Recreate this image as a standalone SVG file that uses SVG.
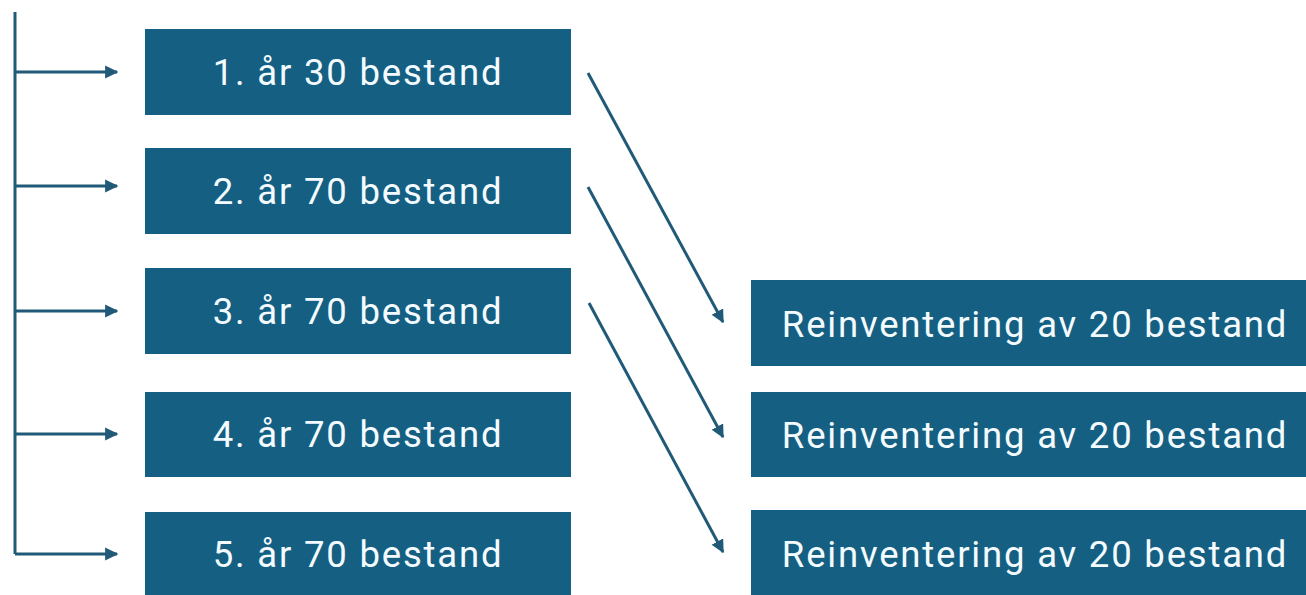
<svg xmlns="http://www.w3.org/2000/svg" width="1306" height="595" viewBox="0 0 1306 595">
  <style>
    .box { fill: #156082; }
    .lbl { font-family: Roboto, "Liberation Sans", sans-serif; font-size: 36.5px; letter-spacing: 1.8px; fill: #f4fbff; text-anchor: middle; }
    .conn { stroke: #215a78; stroke-width: 3; fill: none; }
  </style>
  <defs>
    <marker id="arrow" viewBox="0 0 10 10" refX="9" refY="5" markerWidth="4.4" markerHeight="4.4" markerUnits="strokeWidth" orient="auto">
      <path d="M0,0 L10,5 L0,10 Z" fill="#215a78"/>
    </marker>
  </defs>
  <rect width="1306" height="595" fill="#ffffff"/>

  <!-- yearly batches -->
  <g id="year1"><rect class="box" x="145" y="29" width="426" height="86"/><text class="lbl" x="358" y="85">1. år 30 bestand</text></g>
  <g id="year2"><rect class="box" x="145" y="148" width="426" height="86"/><text class="lbl" x="358" y="204">2. år 70 bestand</text></g>
  <g id="year3"><rect class="box" x="145" y="268" width="426" height="86"/><text class="lbl" x="358" y="324">3. år 70 bestand</text></g>
  <g id="year4"><rect class="box" x="145" y="392" width="426" height="85"/><text class="lbl" x="358" y="447">4. år 70 bestand</text></g>
  <g id="year5"><rect class="box" x="145" y="512" width="426" height="86"/><text class="lbl" x="358" y="567">5. år 70 bestand</text></g>

  <!-- re-inventory batches -->
  <g id="reinv1"><rect class="box" x="751" y="280" width="560" height="86"/><text class="lbl" x="1035" y="337">Reinventering av 20 bestand</text></g>
  <g id="reinv2"><rect class="box" x="751" y="392" width="560" height="85"/><text class="lbl" x="1035" y="448">Reinventering av 20 bestand</text></g>
  <g id="reinv3"><rect class="box" x="751" y="510" width="560" height="88"/><text class="lbl" x="1035" y="567">Reinventering av 20 bestand</text></g>

  <!-- connectors -->
  <g id="connectors">
    <path class="conn" d="M15,12 V554"/>
    <path class="conn" d="M15,72 H117" marker-end="url(#arrow)"/>
    <path class="conn" d="M15,186 H117" marker-end="url(#arrow)"/>
    <path class="conn" d="M15,311 H117" marker-end="url(#arrow)"/>
    <path class="conn" d="M15,434 H117" marker-end="url(#arrow)"/>
    <path class="conn" d="M15,554 H117" marker-end="url(#arrow)"/>
    <path class="conn" d="M588,73 L723,322" marker-end="url(#arrow)"/>
    <path class="conn" d="M588,187 L723,437" marker-end="url(#arrow)"/>
    <path class="conn" d="M589,303 L723,552" marker-end="url(#arrow)"/>
  </g>
</svg>
